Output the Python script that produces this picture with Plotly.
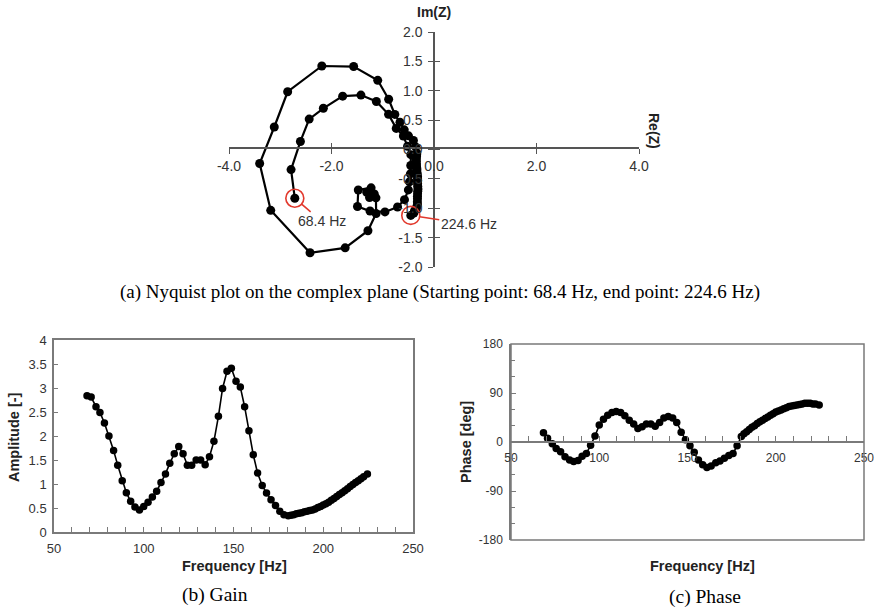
import numpy as np
import plotly.graph_objects as go

# ---------------- data ----------------
freq_hz = [68.4, 70.7, 73.4, 75.6, 78.1, 80.6, 83.2, 85.5, 88.0, 90.3,
           92.7, 95.1, 97.6, 100.0, 102.4, 104.8, 107.2, 109.6, 112.1, 114.5,
           117.0, 119.5, 121.9, 124.3, 126.7, 129.2, 131.7, 134.2, 136.6, 139.1,
           141.6, 143.9, 146.4, 148.8, 151.4, 153.8, 156.2, 158.6, 161.0, 163.4,
           166.0, 168.4, 170.9, 173.4, 175.8, 178.1, 180.5, 182.0, 183.5, 185.0,
           186.5, 188.0, 189.5, 191.0, 192.5, 194.0, 195.5, 197.0, 198.5, 200.0,
           201.5, 203.0, 204.5, 206.0, 207.5, 209.0, 210.5, 212.0, 213.5, 215.0,
           216.5, 218.0, 219.5, 221.0, 222.5, 224.6]

amplitude = [2.84, 2.81, 2.61, 2.49, 2.27, 2.00, 1.70, 1.39, 1.07, 0.82,
             0.64, 0.52, 0.46, 0.53, 0.62, 0.73, 0.85, 1.03, 1.21, 1.43,
             1.63, 1.78, 1.63, 1.39, 1.39, 1.50, 1.50, 1.40, 1.57, 1.89,
             2.41, 2.99, 3.35, 3.41, 3.14, 3.02, 2.61, 2.11, 1.61, 1.23,
             0.97, 0.81, 0.67, 0.55, 0.43, 0.36, 0.34, 0.35, 0.36, 0.38,
             0.39, 0.40, 0.42, 0.43, 0.45, 0.46, 0.48, 0.51, 0.53, 0.56,
             0.59, 0.62, 0.66, 0.70, 0.74, 0.78, 0.82, 0.86, 0.90, 0.95,
             0.99, 1.03, 1.07, 1.11, 1.15, 1.21]

phase_deg = [17, 7, -3, -12, -18, -27, -33, -36, -34, -26,
             -21, -6, 11, 31, 42, 49, 54, 56, 54, 48,
             40, 33, 25, 28, 33, 33, 29, 36, 44, 47,
             44, 36, 18, 4, -7, -19, -33, -42, -47, -44,
             -38, -35, -30, -25, -21, -7, 10, 15, 19, 23,
             27, 30, 34, 37, 40, 43, 46, 49, 52, 55,
             57, 59, 61, 63, 65, 66, 67, 68, 69, 70,
             71, 71, 71, 70, 70, 68]

start_label = "68.4 Hz"
end_label = "224.6 Hz"

# tick labels
nyq_x_ticks = [-4, -2, 0, 2, 4]
nyq_x_text = ["-4.0", "-2.0", "0.0", "2.0", "4.0"]
nyq_y_ticks = [-2, -1.5, -1, -0.5, 0, 0.5, 1, 1.5, 2]
nyq_y_text = ["-2.0", "-1.5", "-1.0", "-0.5", "0.0", "0.5", "1.0", "1.5", "2.0"]
phase_ticks = [-180, -90, 0, 90, 180]
phase_text = ["-180", "-90", "0", "90", "180"]

# Nyquist coordinates from amplitude and phase
amp = np.array(amplitude)
ph = np.deg2rad(np.array(phase_deg))
re_z = -amp * np.cos(ph)
im_z = -amp * np.sin(ph)

# ---------------- figure ----------------
W, H = 880, 611
def px(x):
    return x / W
def py(y):
    return 1 - y / H

FONT = "Liberation Sans, Arial, sans-serif"
SERIF = "Liberation Serif, Times New Roman, serif"
TXT = "#333333"
RED = "#e2392d"
AX_GRAY = "#7a7a7a"
NY_AX = "#555555"

fig = go.Figure()

# Nyquist
fig.add_trace(go.Scatter(x=re_z, y=im_z, mode="lines+markers",
                         line=dict(color="black", width=2.2),
                         marker=dict(color="black", size=9),
                         xaxis="x3", yaxis="y3", hoverinfo="skip"))
fig.add_trace(go.Scatter(x=[re_z[0], re_z[-1]], y=[im_z[0], im_z[-1]], mode="markers",
                         marker=dict(symbol="circle-open", size=18,
                                     line=dict(color=RED, width=1.6), color=RED),
                         xaxis="x3", yaxis="y3", hoverinfo="skip"))
# invisible helper so the overlay (inside-tick) axes get drawn
fig.add_trace(go.Scatter(x=[re_z[0]], y=[im_z[0]], mode="markers",
                         marker=dict(size=1, opacity=0),
                         xaxis="x4", yaxis="y4", hoverinfo="skip"))

# Gain
fig.add_trace(go.Scatter(x=freq_hz, y=amplitude, mode="lines+markers",
                         line=dict(color="black", width=1.6),
                         marker=dict(color="black", size=7.5),
                         xaxis="x", yaxis="y", hoverinfo="skip"))
# Phase
fig.add_trace(go.Scatter(x=freq_hz, y=phase_deg, mode="lines+markers",
                         line=dict(color="black", width=1.6),
                         marker=dict(color="black", size=7.5),
                         xaxis="x2", yaxis="y2", hoverinfo="skip"))

base = dict(showgrid=False, zeroline=False, automargin=False)

nyq_dom_x = [px(229), px(639)]
nyq_dom_y = [py(267), py(32)]

fig.update_layout(
    width=W, height=H, margin=dict(l=0, r=0, t=0, b=0, autoexpand=False),
    paper_bgcolor="white", plot_bgcolor="rgba(0,0,0,0)",
    showlegend=False,
    font=dict(family=FONT, color=TXT),
    # gain
    xaxis=dict(domain=[px(54), px(413)], anchor="y", range=[50, 250], dtick=50,
               ticks="inside", ticklen=5, tickcolor=AX_GRAY, ticklabelstandoff=4,
               minor=dict(dtick=10, ticks="inside", ticklen=5, tickcolor=AX_GRAY),
               showline=True, mirror=True, linecolor=AX_GRAY, linewidth=1.5,
               tickfont=dict(family=FONT, size=13, color=TXT), **base),
    yaxis=dict(domain=[py(532), py(340)], anchor="x", range=[0, 4], dtick=0.5,
               ticks="inside", ticklen=4, tickcolor=AX_GRAY, ticklabelstandoff=3,
               showline=True, mirror=True, linecolor=AX_GRAY, linewidth=1.5,
               tickfont=dict(family=FONT, size=13, color=TXT), **base),
    # phase
    xaxis2=dict(domain=[px(511), px(864)], anchor="free",
                position=(py(540) + py(344)) / 2, range=[50, 250], dtick=50,
                ticks="inside", ticklen=5, tickcolor=AX_GRAY, ticklabelstandoff=5,
                minor=dict(dtick=10, ticks="inside", ticklen=5, tickcolor=AX_GRAY),
                showline=True, linecolor=AX_GRAY, linewidth=1.5,
                tickfont=dict(family=FONT, size=12, color=TXT), **base),
    yaxis2=dict(domain=[py(540), py(344)], anchor="x2", range=[-180, 180],
                tickmode="array", tickvals=phase_ticks, ticktext=phase_text,
                ticks="inside", ticklen=5, tickcolor=AX_GRAY, ticklabelstandoff=4,
                minor=dict(dtick=30, ticks="inside", ticklen=4, tickcolor=AX_GRAY),
                showline=True, linecolor=AX_GRAY, linewidth=1.5,
                tickfont=dict(family=FONT, size=12, color=TXT), **base),
    # nyquist
    xaxis3=dict(domain=nyq_dom_x, anchor="free", position=py(148), range=[-4, 4],
                tickmode="array", tickvals=nyq_x_ticks, ticktext=nyq_x_text,
                ticks="outside", ticklen=5, tickcolor=NY_AX, tickwidth=1.3,
                showline=True, linecolor=NY_AX, linewidth=1.5,
                tickfont=dict(family=FONT, size=14, color=TXT), **base),
    yaxis3=dict(domain=nyq_dom_y, anchor="free", position=px(434), range=[-2, 2],
                tickmode="array", tickvals=nyq_y_ticks, ticktext=nyq_y_text,
                ticks="outside", ticklen=5, tickcolor=NY_AX, tickwidth=1.3,
                ticklabelstandoff=3,
                showline=True, linecolor=NY_AX, linewidth=1.5,
                tickfont=dict(family=FONT, size=14, color=TXT), **base),
    xaxis4=dict(domain=nyq_dom_x, anchor="free", position=py(148), range=[-4, 4],
                overlaying="x3", tickmode="array", tickvals=nyq_x_ticks,
                ticks="inside", ticklen=5, tickcolor=NY_AX, tickwidth=1.3,
                showticklabels=False, showline=False, **base),
    yaxis4=dict(domain=nyq_dom_y, anchor="free", position=px(434), range=[-2, 2],
                overlaying="y3", tickmode="array", tickvals=nyq_y_ticks,
                ticks="inside", ticklen=5, tickcolor=NY_AX, tickwidth=1.3,
                showticklabels=False, showline=False, **base),
)

# phase box
fig.add_shape(type="rect", xref="x2 domain", yref="y2 domain", x0=0, x1=1, y0=0, y1=1,
              line=dict(color=AX_GRAY, width=1.5), layer="above")

ann = []
def label(x, y, text, size=14, bold=True, angle=0, family=FONT, color="#222222"):
    t = f"<b>{text}</b>" if bold else text
    ann.append(dict(x=px(x), y=py(y), xref="paper", yref="paper", text=t,
                    showarrow=False, textangle=angle,
                    font=dict(family=family, size=size, color=color),
                    xanchor="center", yanchor="middle"))

label(434, 12, "Im(Z)", size=14)
label(654, 131, "Re(Z)", size=14, angle=90)
label(14, 437, "Amplitude [-]", size=14.5, angle=-90)
label(234, 566, "Frequency [Hz]", size=14.5)
label(466, 442, "Phase [deg]", size=14.5, angle=-90)
label(702, 566, "Frequency [Hz]", size=14.5)
label(440, 292, "(a) Nyquist plot on the complex plane (Starting point: 68.4 Hz, end point: 224.6 Hz)",
      size=19, bold=False, family=SERIF, color="black")
label(215, 595, "(b) Gain", size=19.5, bold=False, family=SERIF, color="black")
label(705, 597, "(c) Phase", size=19.5, bold=False, family=SERIF, color="black")

ann.append(dict(x=re_z[0], y=im_z[0], xref="x3", yref="y3", text=start_label,
                showarrow=True, arrowhead=0, arrowcolor=RED, arrowwidth=1.6,
                ax=27, ay=23, standoff=9,
                font=dict(family=FONT, size=14, color=TXT)))
ann.append(dict(x=re_z[-1], y=im_z[-1], xref="x3", yref="y3", text=end_label,
                showarrow=True, arrowhead=0, arrowcolor=RED, arrowwidth=1.6,
                ax=58, ay=9, standoff=9,
                font=dict(family=FONT, size=14, color=TXT)))

fig.update_layout(annotations=ann)

fig.write_html("out.html")
